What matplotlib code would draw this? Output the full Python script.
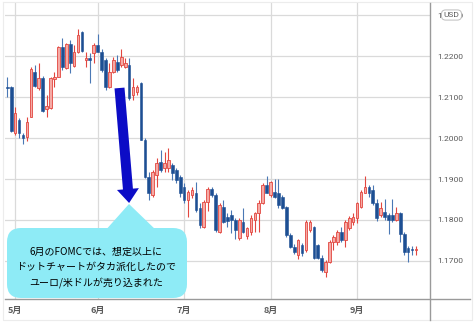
import matplotlib
matplotlib.use("Agg")
import matplotlib.pyplot as plt
import numpy as np
import pandas as pd
from matplotlib.patches import FancyBboxPatch, Polygon, FancyArrow

# EUR/USD daily candles, 2021-04-29 .. 2021-09-22
start_date = "2021-04-29"
end_date = "2021-09-22"

opens = [1.2123, 1.2125, 1.2012, 1.2044, 1.2007, 1.2003, 1.2052, 1.2162, 1.2122, 1.2146,
         1.2071, 1.2073, 1.2144, 1.2150, 1.2223, 1.2170, 1.2229, 1.2176, 1.2210, 1.2259,
         1.2190, 1.2194, 1.2207, 1.2227, 1.2210, 1.2190, 1.2125, 1.2162, 1.2186, 1.2178,
         1.2174, 1.2178, 1.2105, 1.2113, 1.2133, 1.1995, 1.1906, 1.1861, 1.1910, 1.1942,
         1.1926, 1.1926, 1.1934, 1.1922, 1.1906, 1.1881, 1.1849, 1.1861, 1.1865, 1.1829,
         1.1784, 1.1845, 1.1876, 1.1861, 1.1771, 1.1832, 1.1808, 1.1812, 1.1800, 1.1755,
         1.1796, 1.1761, 1.1771, 1.1800, 1.1817, 1.1841, 1.1885, 1.1861, 1.1869, 1.1865,
         1.1857, 1.1832, 1.1763, 1.1735, 1.1715, 1.1739, 1.1727, 1.1776, 1.1784, 1.1739,
         1.1707, 1.1674, 1.1698, 1.1747, 1.1747, 1.1771, 1.1751, 1.1780, 1.1796, 1.1804,
         1.1832, 1.1867, 1.1881, 1.1873, 1.1841, 1.1812, 1.1820, 1.1812, 1.1812, 1.1800,
         1.1816, 1.1767, 1.1731, 1.1730, 1.1726]
highs = [1.2150, 1.2127, 1.2076, 1.2049, 1.2013, 1.2052, 1.2173, 1.2178, 1.2183, 1.2151,
         1.2105, 1.2150, 1.2162, 1.2224, 1.2243, 1.2232, 1.2239, 1.2227, 1.2265, 1.2262,
         1.2210, 1.2207, 1.2232, 1.2254, 1.2217, 1.2195, 1.2183, 1.2198, 1.2202, 1.2216,
         1.2194, 1.2195, 1.2146, 1.2129, 1.2137, 1.2000, 1.1918, 1.1922, 1.1951, 1.1971,
         1.1967, 1.1975, 1.1938, 1.1927, 1.1910, 1.1890, 1.1873, 1.1881, 1.1893, 1.1841,
         1.1849, 1.1880, 1.1880, 1.1866, 1.1841, 1.1849, 1.1817, 1.1824, 1.1805, 1.1805,
         1.1829, 1.1784, 1.1812, 1.1820, 1.1849, 1.1891, 1.1907, 1.1896, 1.1899, 1.1899,
         1.1860, 1.1834, 1.1768, 1.1741, 1.1754, 1.1744, 1.1800, 1.1800, 1.1785, 1.1741,
         1.1715, 1.1702, 1.1751, 1.1763, 1.1776, 1.1784, 1.1800, 1.1810, 1.1816, 1.1845,
         1.1873, 1.1907, 1.1885, 1.1885, 1.1851, 1.1845, 1.1851, 1.1816, 1.1851, 1.1831,
         1.1820, 1.1771, 1.1737, 1.1737, 1.1737]
lows = [1.2101, 1.2015, 1.2007, 1.2000, 1.1985, 1.1993, 1.2051, 1.2125, 1.2117, 1.2064,
        1.2051, 1.2071, 1.2125, 1.2149, 1.2166, 1.2168, 1.2159, 1.2173, 1.2207, 1.2210,
        1.2174, 1.2134, 1.2184, 1.2209, 1.2162, 1.2117, 1.2122, 1.2158, 1.2162, 1.2174,
        1.2170, 1.2093, 1.2093, 1.2105, 1.1994, 1.1902, 1.1849, 1.1857, 1.1881, 1.1918,
        1.1918, 1.1918, 1.1898, 1.1890, 1.1857, 1.1841, 1.1808, 1.1853, 1.1820, 1.1781,
        1.1781, 1.1823, 1.1857, 1.1771, 1.1768, 1.1793, 1.1784, 1.1768, 1.1754, 1.1751,
        1.1768, 1.1754, 1.1763, 1.1771, 1.1771, 1.1839, 1.1866, 1.1857, 1.1853, 1.1829,
        1.1826, 1.1759, 1.1731, 1.1717, 1.1704, 1.1711, 1.1723, 1.1771, 1.1704, 1.1704,
        1.1674, 1.1662, 1.1696, 1.1727, 1.1739, 1.1747, 1.1733, 1.1776, 1.1788, 1.1792,
        1.1830, 1.1865, 1.1857, 1.1837, 1.1798, 1.1808, 1.1800, 1.1767, 1.1796, 1.1798,
        1.1747, 1.1715, 1.1698, 1.1715, 1.1715]
closes = [1.2121, 1.2017, 1.2061, 1.2012, 1.2000, 1.2040, 1.2168, 1.2128, 1.2146, 1.2067,
          1.2078, 1.2146, 1.2150, 1.2223, 1.2174, 1.2229, 1.2182, 1.2210, 1.2251, 1.2213,
          1.2195, 1.2191, 1.2227, 1.2210, 1.2166, 1.2125, 1.2162, 1.2190, 1.2166, 1.2198,
          1.2183, 1.2097, 1.2125, 1.2125, 1.1995, 1.1906, 1.1865, 1.1918, 1.1938, 1.1922,
          1.1938, 1.1946, 1.1914, 1.1898, 1.1865, 1.1849, 1.1869, 1.1873, 1.1824, 1.1788,
          1.1845, 1.1876, 1.1861, 1.1776, 1.1837, 1.1796, 1.1798, 1.1800, 1.1776, 1.1800,
          1.1771, 1.1780, 1.1805, 1.1817, 1.1842, 1.1885, 1.1867, 1.1893, 1.1857, 1.1837,
          1.1829, 1.1763, 1.1735, 1.1723, 1.1751, 1.1719, 1.1796, 1.1796, 1.1707, 1.1707,
          1.1678, 1.1698, 1.1747, 1.1759, 1.1771, 1.1751, 1.1796, 1.1804, 1.1807, 1.1841,
          1.1869, 1.1880, 1.1865, 1.1841, 1.1804, 1.1829, 1.1808, 1.1800, 1.1800, 1.1816,
          1.1767, 1.1723, 1.1723, 1.1727, 1.1730]

price_ticks = [1.17, 1.18, 1.19, 1.20, 1.21, 1.22, 1.23]
month_labels = ["5月", "6月", "7月", "8月", "9月"]
currency_label = "USD"
callout_lines = ["6月のFOMCでは、想定以上に",
                 "ドットチャートがタカ派化したので",
                 "ユーロ/米ドルが売り込まれた"]

UP_FACE, UP_EDGE = "#f5aaa5", "#e2463f"
DN_FACE, DN_WICK = "#1d4f93", "#4a78b5"
GRID = "#dadada"
AXIS = "#9a9a9a"
LABEL = "#5a5a5a"
CALLOUT = "#8eebf6"
ARROW = "#0c0cc6"

dates = pd.bdate_range(start_date, end_date)
o = np.array(opens); h = np.array(highs); l = np.array(lows); c = np.array(closes)
x = np.arange(len(dates))
up = c >= o

W, H = 475, 327
fig = plt.figure(figsize=(W / 100, H / 100), dpi=100)
fig.patch.set_facecolor("white")

# pixel-space helpers
def fx(px):
    return px / W
def fy(py):
    return 1 - py / H

ax_l, ax_r, ax_t, ax_b = 5, 430, 3, 299
ax = fig.add_axes([fx(ax_l), fy(ax_b), fx(ax_r) - fx(ax_l), fy(ax_t) - fy(ax_b)])
ax.set_facecolor("white")

px_per_bar = 3.93
x_left = (ax_l - 7.3) / px_per_bar
x_right = (ax_r - 7.3) / px_per_bar
ax.set_xlim(x_left, x_right)
ax.set_ylim(1.16073, 1.23293)

# grid
ax.set_yticks(price_ticks)
ax.set_yticklabels([f"{v:.4f}" for v in price_ticks])
month_first = [int(np.argmax((dates.month == m))) for m in [5, 6, 7, 8, 9]]
ax.set_xticks(month_first)
ax.set_xticklabels(month_labels)
ax.grid(True, color=GRID, linewidth=0.9, zorder=0)
ax.set_axisbelow(True)

ax.yaxis.tick_right()
ax.tick_params(axis="y", length=0, pad=5, labelsize=6.1, labelcolor=LABEL)
ax.tick_params(axis="x", length=0, pad=5, labelsize=6.5, labelcolor=LABEL)
for lab in ax.get_yticklabels():
    lab.set_family("Roboto")
for lab in ax.get_xticklabels():
    lab.set_family(["Noto Sans CJK JP", "DejaVu Sans"])
    lab.set_fontweight("bold")

for s in ["top", "left", "right", "bottom"]:
    ax.spines[s].set_visible(False)

# candles
bw = 0.68
ax.vlines(x[up], l[up], h[up], color=UP_EDGE, linewidth=0.8, zorder=2)
ax.vlines(x[~up], l[~up], h[~up], color=DN_WICK, linewidth=0.8, zorder=2)
min_h = 0.00025
body_lo = np.minimum(o, c)
body_h = np.maximum(np.abs(c - o), min_h)
ax.bar(x[up], body_h[up], bottom=body_lo[up], width=bw, color=UP_FACE,
       edgecolor=UP_EDGE, linewidth=0.6, zorder=3)
ax.bar(x[~up], body_h[~up], bottom=body_lo[~up], width=bw, color=DN_FACE,
       edgecolor=DN_FACE, linewidth=0.4, zorder=3)

# overlay in pixel coordinates for frame lines and annotations
ov = fig.add_axes([0, 0, 1, 1], zorder=5)
ov.set_xlim(0, W)
ov.set_ylim(H, 0)
ov.axis("off")
ov.patch.set_alpha(0)

# outer frame and axis lines
ov.plot([3, 472, 472, 3, 3], [2, 2, 320, 320, 2], color="#ececec", linewidth=0.8)
ov.plot([ax_r, ax_r], [ax_t, 320], color=AXIS, linewidth=1.0)
ov.plot([ax_l, 470], [ax_b, ax_b], color=AXIS, linewidth=1.0)

# currency badge over the top price label
ov.text(451.5, 15, currency_label, ha="center", va="center", fontsize=6,
        color=LABEL, family="Roboto",
        bbox=dict(boxstyle="round,pad=0.25,rounding_size=0.5", fc="white",
                  ec="#bdbdbd", lw=0.7))

# callout bubble
box = FancyBboxPatch((7, 228), 180, 70, boxstyle="round,pad=0,rounding_size=14",
                     fc=CALLOUT, ec="none", zorder=6)
ov.add_patch(box)
ov.add_patch(Polygon([(104, 232), (129, 204), (158, 232)], closed=True,
                     fc=CALLOUT, ec="none", zorder=6))
for k, line in enumerate(callout_lines):
    ov.text(96, 251.5 + 15.5 * k, line, ha="center", va="center", fontsize=7.2,
            color="black", family=["Noto Sans CJK JP", "DejaVu Sans"], zorder=7)

# downward arrow
ov.add_patch(FancyArrow(119.5, 88, 9.6, 115, width=10, head_width=22,
                        head_length=14, length_includes_head=True,
                        fc=ARROW, ec="none", zorder=6))

fig.savefig("out.png", dpi=100, facecolor="white")
